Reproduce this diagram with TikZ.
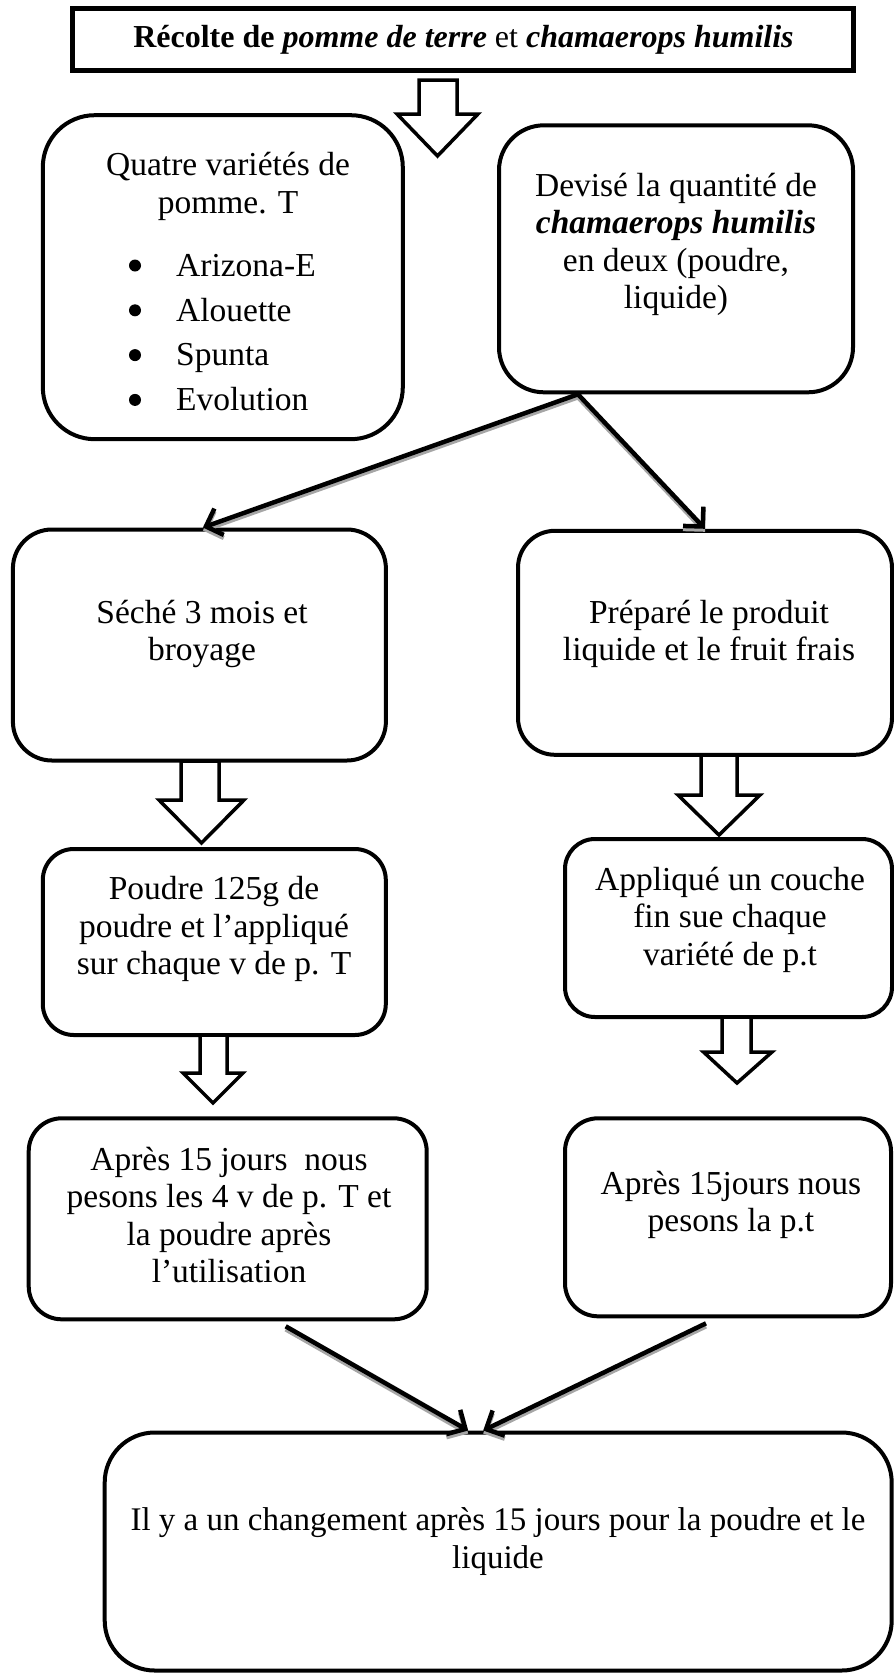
\documentclass[tikz,border=0pt]{standalone}
\usepackage{fontspec}
\setmainfont{Liberation Serif}
\usetikzlibrary{arrows.meta}
\begin{document}
\begin{tikzpicture}[x=1pt,y=-1pt,
  box/.style={draw=black, line width=4pt, fill=white, inner sep=0pt},
  txt/.style={inner sep=0pt, align=center, font=\fontsize{33.5}{37.5}\selectfont},
  hollow/.style={draw=black, line width=3.5pt, fill=white, line join=miter},
  bul/.style={fill=black},
  conn/.style={line width=4.5pt, draw=black, -{Straight Barb[length=14pt,width=28pt]}},
  shadowline/.style={line width=4.5pt, draw=black!35, -{Straight Barb[length=14pt,width=28pt]}}]
\useasboundingbox (0,0) rectangle (894,1673);

% boxes
\node[box, line width=4.5pt, minimum width=781pt, minimum height=62pt] (T) at (463,39.5) {};
\node[box, minimum width=360pt, minimum height=324pt, rounded corners=52pt] (A) at (222.8,277.2) {};
\node[box, minimum width=354pt, minimum height=267pt, rounded corners=45pt] (B) at (676,258.8) {};
\node[box, minimum width=373pt, minimum height=231pt, rounded corners=39pt] (C) at (199.4,645) {};
\node[box, minimum width=374pt, minimum height=224pt, rounded corners=37pt] (D) at (705,642.8) {};
\node[box, minimum width=343pt, minimum height=186pt, rounded corners=31pt] (E) at (214.3,942) {};
\node[box, minimum width=327pt, minimum height=178pt, rounded corners=30pt] (F) at (728.5,928) {};
\node[box, minimum width=398pt, minimum height=201pt, rounded corners=33pt] (G) at (227.7,1218.8) {};
\node[box, minimum width=326pt, minimum height=198pt, rounded corners=33pt] (H) at (728,1217.3) {};
\node[box, minimum width=787pt, minimum height=238pt, rounded corners=50pt] (I) at (498.2,1551.5) {};

% texts
\node[txt, font=\fontsize{32}{37}\selectfont] (Tt) at (463.5,40) {\textbf{Récolte de \textit{pomme de terre}} et \textbf{\textit{chamaerops humilis}}};
\node[txt] (At) at (228,186.3) {Quatre variétés de\\pomme. T};
\node[txt, align=left, anchor=west, font=\fontsize{33.5}{44.8}\selectfont] (Al) at (176,332.5)
  {Arizona-E\\Alouette\\Spunta\\Evolution};
\foreach \k in {0,1,2,3} \fill[bul] (135,{265.5+44.8*\k}) circle (6pt);
\node[txt] (Bt) at (676,244.5) {Devisé la quantité de\\\textbf{\textit{chamaerops humilis}}\\en deux (poudre,\\liquide)};
\node[txt] (Ct) at (202,634) {Séché 3 mois et\\broyage};
\node[txt] (Dt) at (709,634) {Préparé le produit\\liquide et le fruit frais};
\node[txt] (Et) at (214,929) {Poudre 125g de\\poudre et l’appliqué\\sur chaque v de p. T};
\node[txt] (Ft) at (730,919.6) {Appliqué un couche\\fin sue chaque\\variété de p.t};
\node[txt] (Gt) at (229,1215) {Après 15 jours\ \ nous\\pesons les 4 v de p. T et\\la poudre après\\l’utilisation};
\node[txt] (Ht) at (731,1205) {Après 15jours nous\\pesons la p.t};
\node[txt, font=\fontsize{33}{38}\selectfont] (It) at (498,1542) {Il y a un changement après 15 jours pour la poudre et le\\liquide};

% hollow block arrows
\draw[hollow] (419,80) -- (457,80) -- (457,114) -- (478,114) -- (437.5,156) -- (397,114) -- (419,114) -- cycle;
\draw[hollow] (181,761) -- (219,761) -- (219,800) -- (244,800) -- (201.5,843) -- (159,800) -- (181,800) -- cycle;
\draw[hollow] (701,755) -- (737,755) -- (737,795) -- (760,795) -- (719,835) -- (678,795) -- (701,795) -- cycle;
\draw[hollow] (200,1035) -- (227,1035) -- (227,1073) -- (243,1073) -- (213,1103) -- (183,1073) -- (200,1073) -- cycle;
\draw[hollow] (722,1017) -- (751,1017) -- (751,1052) -- (772,1052) -- (737,1083) -- (703.5,1052) -- (722,1052) -- cycle;

% connectors (shadow, then line)
\draw[shadowline] ([xshift=81pt,yshift=-3pt]B.south west) -- ([xshift=192pt,yshift=-3pt]C.north west);
\draw[shadowline] ([xshift=81pt,yshift=-3pt]B.south west) -- ([xshift=189pt,yshift=-3pt]D.north west);
\draw[shadowline] ([xshift=259pt,yshift=-8pt]G.south west) -- ([xshift=365.5pt,yshift=-3pt]I.north west);
\draw[shadowline] ([xshift=143pt,yshift=-8pt]H.south west) -- ([xshift=380.5pt,yshift=-3pt]I.north west);
\draw[conn] ([xshift=81pt]B.south west) -- ([xshift=192pt]C.north west);
\draw[conn] ([xshift=81pt]B.south west) -- ([xshift=189pt]D.north west);
\draw[conn] ([xshift=259pt,yshift=-5pt]G.south west) -- ([xshift=365.5pt]I.north west);
\draw[conn] ([xshift=143pt,yshift=-5pt]H.south west) -- ([xshift=380.5pt]I.north west);
\end{tikzpicture}
\end{document}
